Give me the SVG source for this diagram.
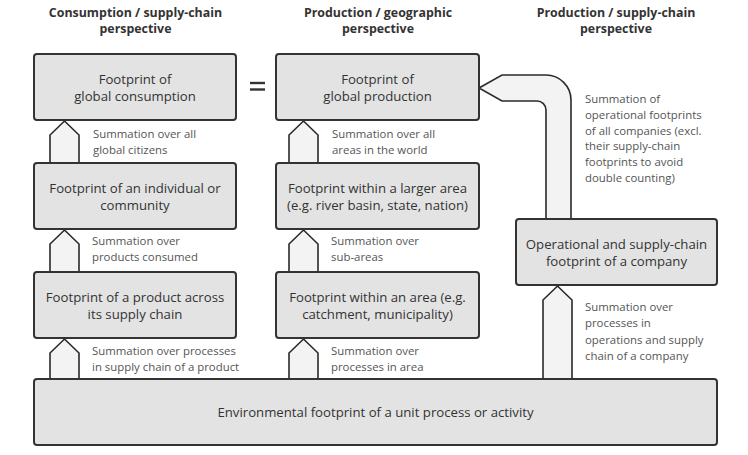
<svg xmlns="http://www.w3.org/2000/svg" width="748" height="455" viewBox="0 0 748 455">
<style>
.box{fill:#e3e3e3;stroke:#333;stroke-width:2}
.arr{fill:#f3f3f3;stroke:#2a2a2a;stroke-width:1.6;stroke-linejoin:miter}
.hd{font-family:"Open Sans","Liberation Sans",sans-serif;font-size:12.4px;font-weight:bold;fill:#333;text-anchor:middle}
.bt{font-family:"Open Sans","Liberation Sans",sans-serif;font-size:13.2px;fill:#333;text-anchor:middle}
.lb{font-family:"Open Sans","Liberation Sans",sans-serif;font-size:11.4px;fill:#555}
</style>
<rect width="748" height="455" fill="#fff"/>
<g id="headers">
<text class="hd" x="135.5" y="17">Consumption / supply-chain</text>
<text class="hd" x="135.5" y="33">perspective</text>
<text class="hd" x="378" y="17">Production / geographic</text>
<text class="hd" x="378" y="33">perspective</text>
<text class="hd" x="616" y="17">Production / supply-chain</text>
<text class="hd" x="616" y="33">perspective</text>
</g>
<g id="connectors">
<path class="arr" d="M64.5 121 L79 135 L79 163 L50 163 L50 135 Z"/>
<path class="arr" d="M64.5 230 L79 244 L79 272 L50 272 L50 244 Z"/>
<path class="arr" d="M64.5 339 L79 353 L79 379 L50 379 L50 353 Z"/>
<path class="arr" d="M303.5 121 L318 135 L318 163 L289 163 L289 135 Z"/>
<path class="arr" d="M303.5 230 L318 244 L318 272 L289 272 L289 244 Z"/>
<path class="arr" d="M303.5 339 L318 353 L318 379 L289 379 L289 353 Z"/>
<path class="arr" d="M557.5 286 L572 300 L572 379 L543 379 L543 300 Z"/>
<path class="arr" d="M479 88 L502 75 L546 75 A25 25 0 0 1 571 100 L571 219 L546 219 L546 110 A9 9 0 0 0 537 101 L502 101 Z"/>
</g>
<g id="equals" stroke="#333" stroke-width="2.4">
<line x1="250" y1="83" x2="265" y2="83"/>
<line x1="250" y1="89.5" x2="265" y2="89.5"/>
</g>
<g id="n-global-consumption">
<rect class="box" x="34" y="54" width="202" height="66" rx="3"/>
<text class="bt" x="135" y="84">Footprint of</text>
<text class="bt" x="135" y="101">global consumption</text>
</g>
<g id="n-individual">
<rect class="box" x="34" y="163" width="202" height="66" rx="3"/>
<text class="bt" x="135" y="193">Footprint of an individual or</text>
<text class="bt" x="135" y="210">community</text>
</g>
<g id="n-product">
<rect class="box" x="34" y="272" width="202" height="66" rx="3"/>
<text class="bt" x="135" y="302">Footprint of a product across</text>
<text class="bt" x="135" y="319">its supply chain</text>
</g>
<g id="n-global-production">
<rect class="box" x="276" y="54" width="203" height="66" rx="3"/>
<text class="bt" x="377.5" y="84">Footprint of</text>
<text class="bt" x="377.5" y="101">global production</text>
</g>
<g id="n-larger-area">
<rect class="box" x="276" y="163" width="203" height="66" rx="3"/>
<text class="bt" x="377.5" y="193">Footprint within a larger area</text>
<text class="bt" x="377.5" y="210">(e.g. river basin, state, nation)</text>
</g>
<g id="n-area">
<rect class="box" x="276" y="272" width="203" height="66" rx="3"/>
<text class="bt" x="377.5" y="302">Footprint within an area (e.g.</text>
<text class="bt" x="377.5" y="319">catchment, municipality)</text>
</g>
<g id="n-company">
<rect class="box" x="516" y="219" width="201" height="66" rx="3"/>
<text class="bt" x="616.5" y="249">Operational and supply-chain</text>
<text class="bt" x="616.5" y="266">footprint of a company</text>
</g>
<g id="n-unit-process">
<rect class="box" x="34" y="379" width="683" height="66" rx="3"/>
<text class="bt" x="375.5" y="417">Environmental footprint of a unit process or activity</text>
</g>
<g id="labels">
<text class="lb" x="93" y="138">Summation over all</text>
<text class="lb" x="93" y="154">global citizens</text>
<text class="lb" x="92" y="245">Summation over</text>
<text class="lb" x="92" y="261">products consumed</text>
<text class="lb" x="92" y="355">Summation over processes</text>
<text class="lb" x="92" y="371">in supply chain of a product</text>
<text class="lb" x="332" y="138">Summation over all</text>
<text class="lb" x="332" y="154">areas in the world</text>
<text class="lb" x="331" y="245">Summation over</text>
<text class="lb" x="331" y="261">sub-areas</text>
<text class="lb" x="331" y="355">Summation over</text>
<text class="lb" x="331" y="371">processes in area</text>
<text class="lb" x="585" y="103">Summation of</text>
<text class="lb" x="585" y="118.8">operational footprints</text>
<text class="lb" x="585" y="134.6">of all companies (excl.</text>
<text class="lb" x="585" y="150.4">their supply-chain</text>
<text class="lb" x="585" y="166.2">footprints to avoid</text>
<text class="lb" x="585" y="182">double counting)</text>
<text class="lb" x="585" y="311">Summation over</text>
<text class="lb" x="585" y="327">processes in</text>
<text class="lb" x="585" y="343.5">operations and supply</text>
<text class="lb" x="585" y="359.5">chain of a company</text>
</g>
</svg>
